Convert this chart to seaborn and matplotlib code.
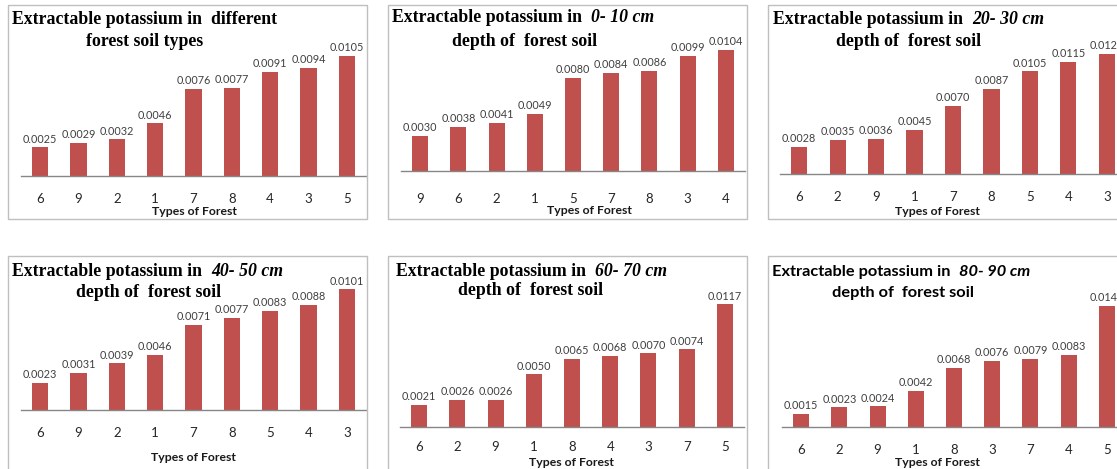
import matplotlib

matplotlib.use("Agg")
import matplotlib.pyplot as plt
import pandas as pd
import seaborn as sns
from matplotlib.patches import Rectangle

# ---- data ----
types_all = ["6", "9", "2", "1", "7", "8", "4", "3", "5"]
k_all = [0.0025, 0.0029, 0.0032, 0.0046, 0.0076, 0.0077, 0.0091, 0.0094, 0.0105]

types_0_10 = ["9", "6", "2", "1", "5", "7", "8", "3", "4"]
k_0_10 = [0.0030, 0.0038, 0.0041, 0.0049, 0.0080, 0.0084, 0.0086, 0.0099, 0.0104]

types_20_30 = ["6", "2", "9", "1", "7", "8", "5", "4", "3"]
k_20_30 = [0.0028, 0.0035, 0.0036, 0.0045, 0.0070, 0.0087, 0.0105, 0.0115, 0.0123]

types_40_50 = ["6", "9", "2", "1", "7", "8", "5", "4", "3"]
k_40_50 = [0.0023, 0.0031, 0.0039, 0.0046, 0.0071, 0.0077, 0.0083, 0.0088, 0.0101]

types_60_70 = ["6", "2", "9", "1", "8", "4", "3", "7", "5"]
k_60_70 = [0.0021, 0.0026, 0.0026, 0.0050, 0.0065, 0.0068, 0.0070, 0.0074, 0.0117]

types_80_90 = ["6", "2", "9", "1", "8", "3", "7", "4", "5"]
k_80_90 = [0.0015, 0.0023, 0.0024, 0.0042, 0.0068, 0.0076, 0.0079, 0.0083, 0.0140]

titles_lead = ["Extractable potassium in  different"] + ["Extractable potassium in  "] * 5
titles_depth = ["", "0- 10 cm", "20- 30 cm", "40- 50 cm", "60- 70 cm", "80- 90 cm"]
titles_line2 = ["forest soil types"] + ["depth of  forest soil"] * 5
XLABEL = "Types of Forest"

BAR = "#C0504D"
W, H = 1117, 469

sns.set_style("white")
plt.rcParams["font.family"] = ["Lato", "DejaVu Sans"]


def fx(x):
    return x / W


def fy(y):
    return 1 - y / H


# layout in pixels: (plot left, right, baseline, ymax, px per 0.001,
#   tick pad pt, title x, title y1, line2 center x, title y2, xlabel x, xlabel y)
panels = [
    (types_all, k_all, 21, 366, 176.0, 0.012, 11.46, 12, 12, 19, 144.5, 41, 194, 211),
    (types_0_10, k_0_10, 401, 745, 170.7, 0.012, 11.60, 16, 392, 18, 525, 41, 589, 210),
    (types_20_30, k_20_30, 780, 1126, 174.0, 0.014, 9.77, 12, 773, 20, 909, 41, 937, 211),
    (types_40_50, k_40_50, 21, 366, 410.0, 0.012, 11.95, 12, 12, 272, 148.5, 292, 193, 457),
    (types_60_70, k_60_70, 400, 744, 426.7, 0.014, 10.46, 10.5, 396, 271, 531, 290, 571, 462),
    (types_80_90, k_80_90, 782, 1126, 427.3, 0.016, 8.69, 12, 772, 272, 902.5, 293, 937, 462),
]

fig = plt.figure(figsize=(W / 100, H / 100), dpi=100)

# panel borders
for (x0, y0, x1, y1) in [(8, 5, 367, 219), (388, 5, 747, 219), (768, 5, 1130, 219),
                         (8, 256, 367, 480), (388, 256, 747, 480), (768, 256, 1130, 480)]:
    fig.patches.append(Rectangle((fx(x0), fy(y1)), (x1 - x0) / W, (y1 - y0) / H,
                                 transform=fig.transFigure, fill=False,
                                 edgecolor="#BFBFBF", linewidth=1.0))

for i, (cats, vals, left, right, base, ymax, ppm, pad, tx, ty1, t2x, ty2, lx, ly) in enumerate(panels):
    height = ymax * 1000 * ppm
    ax = fig.add_axes([fx(left), fy(base), (right - left) / W, height / H])
    df = pd.DataFrame({"type": cats, "k": vals})
    sns.barplot(data=df, x="type", y="k", order=cats, color=BAR, width=0.42,
                saturation=1, ax=ax, edgecolor="none")
    ax.set_xlim(-0.5, 8.5)
    ax.set_ylim(0, ymax)
    ax.set_yticks([])
    ax.set_ylabel("")
    for s in ["top", "right", "left"]:
        ax.spines[s].set_visible(False)
    ax.spines["bottom"].set_color("#868686")
    ax.spines["bottom"].set_linewidth(1.0)
    ax.tick_params(axis="x", length=0, pad=pad, labelsize=9.5, labelcolor="#262626")
    ax.bar_label(ax.containers[0], fmt="%.4f", padding=2, fontsize=7.8, color="#404040")
    ax.set_xlabel(XLABEL, fontsize=8.8, fontweight="bold", color="#1a1a1a")
    ax.xaxis.set_label_coords((lx - left) / (right - left), -(ly - base) / height)
    ax.xaxis.label.set_verticalalignment("center")
    ax.patch.set_alpha(0)

    # titles
    if i == 5:
        fam, sz = ["Lato", "DejaVu Sans"], 11.8
    else:
        fam, sz = ["Liberation Serif", "DejaVu Serif"], 12.8
    t1 = fig.text(fx(tx), fy(ty1), titles_lead[i], family=fam, fontsize=sz,
                  fontweight="bold", ha="left", va="center", color="black")
    if titles_depth[i]:
        fig.texts.append(t1)
        ann = plt.annotate(titles_depth[i], xy=(1, 0), xycoords=t1, ha="left", va="bottom",
                           family=fam, fontsize=sz, fontweight="bold", fontstyle="italic",
                           color="black", annotation_clip=False)
        ann.remove()
        fig.texts.remove(t1)
        fig.add_artist(ann)
    fig.text(fx(t2x), fy(ty2), titles_line2[i], family=fam, fontsize=sz,
             fontweight="bold", ha="center", va="center", color="black")

fig.savefig("out.png", dpi=100)
